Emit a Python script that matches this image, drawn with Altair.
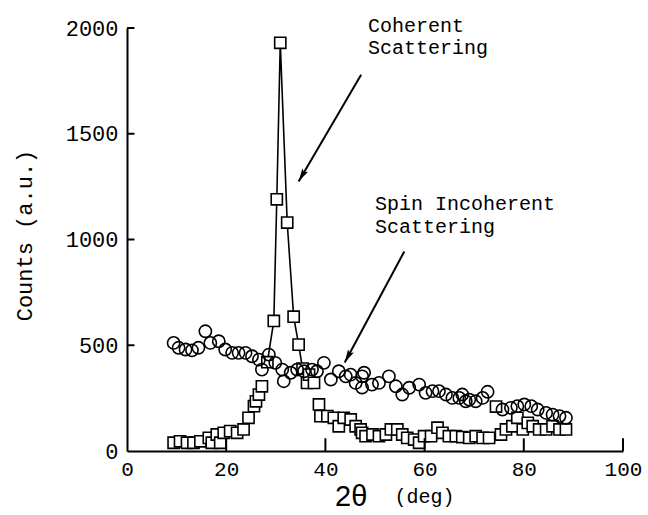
import altair as alt
import pandas as pd

# ---- data ----
circle_x = [9.4, 10.4, 11.8, 13.1, 14.4, 15.8, 16.8, 18.5, 19.8, 21.2, 22.5, 23.9, 25.2, 26.6, 27.2,
            28.6, 29.9, 31.3, 31.6, 33.0, 34.3, 35.7, 37.3, 38.3, 39.7, 41.1, 42.7, 44.1, 45.1, 46.1,
            47.4, 47.4, 47.8, 49.4, 50.8, 52.8, 54.2, 55.5, 56.9, 58.9, 60.2, 61.6, 62.9, 64.3, 65.6,
            67.0, 67.6, 68.3, 69.0, 70.3, 71.7, 72.7, 75.7, 77.4, 78.7, 80.1, 81.5, 82.8, 84.5, 85.8,
            87.2, 88.5]
circle_y = [511, 488, 480, 476, 488, 566, 511, 519, 480, 464, 464, 464, 448, 432, 385,
            456, 417, 385, 330, 370, 385, 377, 385, 377, 417, 338, 377, 353, 361, 322,
            353, 300, 370, 314, 322, 353, 306, 267, 299, 314, 275, 283, 283, 267, 251,
            251, 267, 235, 243, 235, 251, 280, 196, 204, 212, 220, 212, 196, 180, 172,
            165, 157]

square_x = [9.4, 10.7, 12.1, 13.4, 14.8, 16.5, 17.1, 18.1, 18.8, 19.5, 20.8, 22.2, 23.5, 24.5, 25.6,
            26.0, 26.6, 27.2, 28.3, 29.6, 30.2, 30.9, 32.3, 33.6, 34.6, 35.4, 36.3, 36.7, 37.7, 38.7,
            39.0, 40.4, 41.7, 42.7, 43.7, 45.1, 46.1, 47.1, 47.4, 48.1, 49.5, 50.8, 52.2, 53.2, 54.5,
            55.5, 56.5, 57.9, 58.9, 59.9, 61.3, 62.6, 63.6, 64.9, 66.3, 67.6, 69.0, 70.3, 71.7, 73.0,
            74.4, 75.4, 76.4, 77.7, 78.7, 79.8, 80.8, 81.8, 83.1, 84.5, 85.8, 87.2, 88.5]
square_y = [39, 46, 39, 39, 46, 62, 39, 78, 39, 86, 94, 86, 102, 157, 212,
            235, 267, 306, 420, 615, 1190, 1930, 1080, 635, 503, 390, 322, 361, 322, 220,
            165, 165, 157, 117, 157, 149, 117, 102, 86, 70, 78, 70, 78, 102, 102,
            78, 62, 54, 39, 70, 70, 110, 86, 70, 70, 66, 62, 70, 62, 62,
            210, 78, 102, 117, 157, 102, 133, 117, 102, 102, 117, 102, 102]

x_tick_values = [0, 20, 40, 60, 80, 100]
y_tick_values = [0, 500, 1000, 1500, 2000]
x_inner_ticks = [20, 40, 60, 80, 100]
y_inner_ticks = [500, 1000, 1500, 2000]

labels_text = ["Coherent", "Scattering", "Spin Incoherent", "Scattering"]
labels_x = [48.6, 48.6, 50.0, 50.0]
labels_y = [1983, 1878, 1141, 1031]

arrow_x0 = [47.2, 55.9]
arrow_y0 = [1779, 943]
arrow_x1 = [34.6, 43.9]
arrow_y1 = [1274, 418]
arrow_angle = [210, 208]

xtitle_text = ["2θ", "(deg)"]
xtitle_x = [45.2, 60.0]

# ---- tables ----
circles = pd.DataFrame({"x": circle_x, "y": circle_y})
squares = pd.DataFrame({"x": square_x, "y": square_y})
xt = pd.DataFrame({"v": x_inner_ticks})
yt = pd.DataFrame({"v": y_inner_ticks})
labels = pd.DataFrame({"t": labels_text, "x": labels_x, "y": labels_y})
arrows = pd.DataFrame({"x0": arrow_x0, "y0": arrow_y0, "x1": arrow_x1, "y1": arrow_y1,
                       "ang": arrow_angle})
xtitle_df = pd.DataFrame({"t": xtitle_text, "x": xtitle_x})

W, H = 496, 423
MONO = "Liberation Mono"

xs = alt.Scale(domain=[0, 100], nice=False, zero=False)
ys = alt.Scale(domain=[0, 2000], nice=False, zero=False)

x_axis = alt.Axis(values=x_tick_values, title=None, ticks=False, grid=False,
                  labelFont=MONO, labelFontSize=21, labelPadding=7, labelColor="black",
                  labelFlush=False, labelOverlap=False, labelBound=False,
                  domainColor="black", domainWidth=2, format="d")
y_axis = alt.Axis(values=y_tick_values, title="Counts (a.u.)", ticks=False, grid=False,
                  labelFont=MONO, labelFontSize=22, labelPadding=9, labelColor="black",
                  labelFlush=False, labelOverlap=False, labelBound=False,
                  domainColor="black", domainWidth=2, format="d",
                  titleFont=MONO, titleFontSize=22, titleFontWeight="normal", titleColor="black",
                  titleAngle=270, titleX=-103, titleY=207, titleAlign="center",
                  titleBaseline="middle")

peak_line = alt.Chart(squares).transform_filter(
    (alt.datum.x >= 28) & (alt.datum.x <= 36)
).mark_line(color="black", strokeWidth=1.6).encode(
    x=alt.X("x:Q", scale=xs, axis=x_axis),
    y=alt.Y("y:Q", scale=ys, axis=y_axis),
)

square_pts = alt.Chart(squares).mark_point(
    shape="square", size=125, filled=True, fill="white", stroke="black",
    strokeWidth=1.6, opacity=1
).encode(x="x:Q", y="y:Q")

circle_pts = alt.Chart(circles).mark_point(
    shape="circle", size=150, filled=False, stroke="black", strokeWidth=1.6, opacity=1
).encode(x="x:Q", y="y:Q")

x_ticks = alt.Chart(xt).mark_rule(color="black", strokeWidth=2).encode(
    x="v:Q", y=alt.datum(0), y2=alt.datum(60))
y_ticks = alt.Chart(yt).mark_rule(color="black", strokeWidth=2).encode(
    y="v:Q", x=alt.datum(0), x2=alt.datum(1.5))

arrow_lines = alt.Chart(arrows).mark_rule(color="black", strokeWidth=2).encode(
    x="x0:Q", y="y0:Q", x2="x1:Q", y2="y1:Q")
arrow_heads = alt.Chart(arrows).mark_point(
    shape="M0,0L1.1,4.4L0,3.6L-1.1,4.4Z", size=36, filled=True, color="black", opacity=1
).encode(x="x1:Q", y="y1:Q", angle=alt.Angle("ang:Q", scale=None))

ann = alt.Chart(labels).mark_text(
    font=MONO, fontSize=20, align="left", baseline="alphabetic", color="black"
).encode(x="x:Q", y="y:Q", text="t:N")

xt1 = alt.Chart(xtitle_df).transform_filter(alt.datum.t == "2θ").mark_text(
    font="Liberation Sans", fontSize=29, align="center", baseline="alphabetic", color="black"
).encode(x="x:Q", y=alt.value(H + 55), text="t:N")
xt2 = alt.Chart(xtitle_df).transform_filter(alt.datum.t == "(deg)").mark_text(
    font=MONO, fontSize=20, align="center", baseline="alphabetic", color="black"
).encode(x="x:Q", y=alt.value(H + 52), text="t:N")

chart = alt.layer(
    peak_line, square_pts, circle_pts, x_ticks, y_ticks, arrow_lines, arrow_heads, ann, xt1, xt2
).properties(
    width=W, height=H,
    autosize=alt.AutoSizeParams(type="none"),
    padding={"left": 127, "top": 28, "right": 648 - 127 - W, "bottom": 515 - 28 - H},
    background="white",
).configure_view(stroke=None)

chart.save("out.html", embed_options={"renderer": "svg", "actions": False})
